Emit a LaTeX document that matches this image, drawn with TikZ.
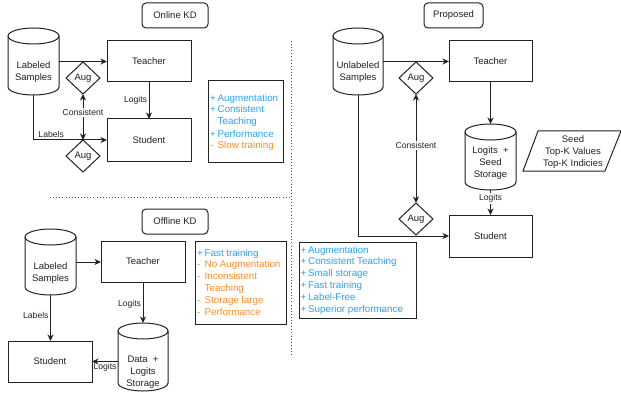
\documentclass[tikz,border=0pt]{standalone}
\usepackage{fontspec}
\setmainfont{Liberation Sans}
\usetikzlibrary{arrows.meta,shapes.geometric}
\definecolor{pblue}{HTML}{29A3F5}
\definecolor{porange}{HTML}{FF8C26}
\definecolor{ln}{HTML}{222222}
\tikzset{
  nfont/.style={font=\fontsize{9.5}{12}\selectfont, text=ln},
  lbl/.style={font=\fontsize{8.6}{10}\selectfont, text=ln, inner sep=1.5pt},
  rbox/.style={draw=ln, line width=1pt, rectangle, inner sep=0pt, outer sep=0pt, nfont},
  tbox/.style={rbox, rounded corners=4pt},
  augd/.style={draw=ln, line width=1pt, diamond, aspect=1.06, inner sep=0pt, outer sep=0pt,
     minimum width=34pt, minimum height=32pt, nfont},
  arr/.style={draw=ln, line width=1pt, -{Stealth[length=6.5pt,width=6pt,inset=2pt]}},
  dbl/.style={draw=ln, line width=1pt, {Stealth[length=6.5pt,width=6pt,inset=2pt]}-{Stealth[length=6.5pt,width=6pt,inset=2pt]}},
  cylline/.style={draw=ln, line width=1pt},
  listtxt/.style={font=\fontsize{9.8}{11.8}\selectfont, align=left, inner sep=0pt, anchor=west},
  dotline/.style={draw=ln!80, line width=0.9pt, dash pattern=on 0.9pt off 2.2pt},
  cyltxt/.style={nfont, align=center, inner sep=0pt}
}
\newcommand{\mycyl}[5]{%
  \pgfmathsetmacro{\cx}{(#2+#4)/2}%
  \pgfmathsetmacro{\rx}{(#4-#2)/2}%
  \pgfmathsetmacro{\kx}{0.5523*\rx}%
  \pgfmathsetmacro{\ta}{#3+8}%
  \pgfmathsetmacro{\ba}{#5-8}%
  \pgfmathsetmacro{\ky}{0.5523*8}%
  \pgfmathsetmacro{\fr}{#3+16}%
  \filldraw[cylline, fill=white] (#2,\ta) -- (#2,\ba) .. controls (#2,\ba+\ky) and (\cx-\kx,#5) .. (\cx,#5)
     .. controls (\cx+\kx,#5) and (#4,\ba+\ky) .. (#4,\ba) -- (#4,\ta)
     .. controls (#4,\ta-\ky) and (\cx+\kx,#3) .. (\cx,#3)
     .. controls (\cx-\kx,#3) and (#2,\ta-\ky) .. (#2,\ta) -- cycle;
  \draw[cylline] (#2,\ta) .. controls (#2,\ta+\ky) and (\cx-\kx,\fr) .. (\cx,\fr)
     .. controls (\cx+\kx,\fr) and (#4,\ta+\ky) .. (#4,\ta);
  \node[inner sep=0pt, outer sep=0pt, minimum width={(#4-#2)*1pt}, minimum height={(#5-#3)*1pt}] (#1) at (\cx,{(#3+#5)/2}) {};
}
\newcommand{\pl}{\makebox[7.5pt][l]{+}}
\newcommand{\mi}{\makebox[7.5pt][l]{-}}
\begin{document}
\begin{tikzpicture}[x=1pt,y=-1pt]
\useasboundingbox (0,0) rectangle (621,393);

% ---------------- Online KD ----------------
\node[tbox, minimum width=66pt, minimum height=25pt] (t1) at (175,15.5) {Online KD};
\mycyl{cyl1}{8}{28}{59}{95}
\node[cyltxt] (cyl1t) at (33.5,72) {Labeled\\Samples};
\node[rbox, minimum width=84pt, minimum height=41pt] (T1) at (149,61.5) {Teacher};
\node[rbox, minimum width=84pt, minimum height=42pt] (S1) at (149,140) {Student};
\node[augd] (aug1) at (83,78) {Aug};
\node[augd] (aug2) at (83,156) {Aug};
\draw[arr] (cyl1.east) -- (T1.west);
\draw[arr] (T1.south) -- (S1.north) node[midway, left, lbl] {Logits};
\draw[dbl] (aug1.south) -- (aug2.north) node[pos=0.4, lbl, fill=white] {Consistent};
\draw[arr] (cyl1.south) |- (S1.west) node[pos=0.62, above, lbl] {Labels};
\node[rbox, minimum width=75pt, minimum height=81pt] (p1) at (245.5,121.5) {};
\node[listtxt] (p1t) at (210,122.5) {%
  \textcolor{pblue}{\pl Augmentation}\\
  \textcolor{pblue}{\pl Consistent}\\
  \textcolor{pblue}{\hspace*{7.5pt}Teaching}\\[0.6pt]
  \textcolor{pblue}{\pl Performance}\\
  \textcolor{porange}{\mi Slow training}};

% dividers
\draw[dotline] (50,197) -- (291,197);
\draw[dotline] (291,41) -- (291,357);

% ---------------- Offline KD ----------------
\node[tbox, minimum width=66pt, minimum height=25pt] (t2) at (175,221.5) {Offline KD};
\mycyl{cyl2}{25}{229}{76}{295}
\node[cyltxt] (cyl2t) at (50.5,273) {Labeled\\Samples};
\node[rbox, minimum width=84pt, minimum height=41pt] (T2) at (143,261.5) {Teacher};
\node[rbox, minimum width=84pt, minimum height=41pt] (S2) at (50,361.5) {Student};
\mycyl{cyl3}{118}{323}{168}{391}
\node[cyltxt] (cyl3t) at (143,372) {Data\ \ +\\Logits\\Storage};
\draw[arr] (cyl2.east) -- (cyl2.east -| T2.west);
\draw[arr] (T2.south) -- (cyl3.north) node[pos=0.55, left, lbl] {Logits};
\draw[arr] (cyl2.south) -- (cyl2.south |- S2.north) node[pos=0.45, left, lbl] {Labels};
\draw[arr] (cyl3.west |- S2.east) -- (S2.east) node[midway, below, lbl, inner sep=1pt] {Logits};
\node[rbox, minimum width=91pt, minimum height=83pt] (c2) at (240.5,282.5) {};
\node[listtxt] (c2t) at (197,282) {%
  \textcolor{pblue}{\pl Fast training}\\
  \textcolor{porange}{\mi No Augmentation}\\
  \textcolor{porange}{\mi Inconsistent}\\
  \textcolor{porange}{\hspace*{7.5pt}Teaching}\\
  \textcolor{porange}{\mi Storage large}\\
  \textcolor{porange}{\mi Performance}};

% ---------------- Proposed ----------------
\node[tbox, minimum width=59pt, minimum height=25pt] (t3) at (453.5,15.5) {Proposed};
\mycyl{cyl4}{333}{28}{383}{95}
\node[cyltxt] (cyl4t) at (358,72) {Unlabeled\\Samples};
\node[rbox, minimum width=83pt, minimum height=41pt] (T3) at (490.5,61.5) {Teacher};
\node[augd] (aug3) at (416,78) {Aug};
\mycyl{cyl5}{465}{124}{516}{190}
\node[cyltxt] (cyl5t) at (490.5,163) {Logits\ \ +\\Seed\\Storage};
\node[rbox, minimum width=83pt, minimum height=42pt] (S3) at (490.5,236) {Student};
\node[augd] (aug4) at (416,219) {Aug};
\draw[arr] (cyl4.east) -- (T3.west);
\draw[arr] (T3.south) -- (cyl5.north);
\draw[arr] (cyl5.south) -- (S3.north) node[pos=0.35, lbl, fill=white] {Logits};
\draw[dbl] (aug3.south) -- (aug4.north) node[pos=0.47, lbl, fill=white] {Consistent};
\draw[arr] (cyl4.south) |- (S3.west);
\draw[draw=ln, line width=1pt] (538,131) -- (621,131) -- (605,171) -- (523,171) -- cycle;
\node[cyltxt] (seed) at (573,152) {Seed\\Top-K Values\\Top-K Indicies};
\node[rbox, minimum width=117pt, minimum height=76pt] (p3) at (357.5,280) {};
\node[listtxt] (p3t) at (300.5,280) {%
  \textcolor{pblue}{\pl Augmentation}\\
  \textcolor{pblue}{\pl Consistent Teaching}\\
  \textcolor{pblue}{\pl Small storage}\\
  \textcolor{pblue}{\pl Fast training}\\
  \textcolor{pblue}{\pl Label-Free}\\
  \textcolor{pblue}{\pl Superior performance}};
\end{tikzpicture}
\end{document}
